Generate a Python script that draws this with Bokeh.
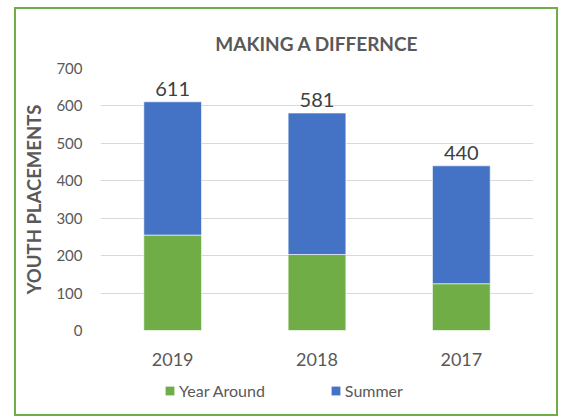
from bokeh.plotting import figure
from bokeh.models import ColumnDataSource, LabelSet, Legend, LegendItem, FactorRange, Range1d, FixedTicker, Spacer
from bokeh.core.properties import value
from bokeh.layouts import column, row
from bokeh.embed import file_html
from bokeh.resources import INLINE

years = ["2019", "2018", "2017"]
year_around = [255, 203, 125]
summer = [356, 378, 315]
series = ["Year Around", "Summer"]
colors = ["#70AD47", "#4472C4"]
y_ticks = [0, 100, 200, 300, 400, 500, 600, 700]

totals = [a + b for a, b in zip(year_around, summer)]
source = ColumnDataSource(dict(
    years=years, year_around=year_around, summer=summer,
    totals=totals, total_labels=[str(t) for t in totals]))

FONT = "Lato"
GREY = "#595959"

p = figure(x_range=FactorRange(*years), y_range=Range1d(0, 700),
           width=540, height=365, output_backend="svg", toolbar_location=None,
           min_border_left=84, min_border_right=23, min_border_top=59, min_border_bottom=44,
           title="MAKING A DIFFERNCE")
p.outline_line_color = None

p.title.text_font = FONT
p.title.text_font_size = "19px"
p.title.text_font_style = "bold"
p.title.text_color = GREY
p.title.align = "center"
p.title.standoff = 28

rs = p.vbar_stack(["year_around", "summer"], x="years", width=0.4, color=colors,
                  line_color="#ffffff", line_alpha=0.6, line_width=1, source=source)

labels = LabelSet(x="years", y="totals", text="total_labels", source=source,
                  text_align="center", text_baseline="alphabetic", y_offset=6,
                  text_font_size="20px", text_color="#404040", text_font=value(FONT))
p.add_layout(labels)

p.yaxis.ticker = FixedTicker(ticks=y_ticks)
p.yaxis.axis_line_color = None
p.yaxis.major_tick_line_color = None
p.yaxis.minor_tick_line_color = None
p.yaxis.major_label_standoff = 12
p.yaxis.major_label_text_font = FONT
p.yaxis.major_label_text_font_size = "15px"
p.yaxis.major_label_text_color = GREY
p.yaxis.axis_label = "YOUTH PLACEMENTS"
p.yaxis.axis_label_text_font = FONT
p.yaxis.axis_label_text_font_size = "18.5px"
p.yaxis.axis_label_text_font_style = "bold"
p.yaxis.axis_label_text_color = GREY
p.yaxis.axis_label_standoff = 8

p.xaxis.axis_line_color = None
p.xaxis.major_tick_line_color = None
p.xaxis.minor_tick_line_color = None
p.xaxis.major_label_standoff = 16
p.xaxis.major_label_text_font = FONT
p.xaxis.major_label_text_font_size = "18px"
p.xaxis.major_label_text_color = GREY

p.xgrid.grid_line_color = None
p.ygrid.grid_line_color = "#D9D9D9"
p.ygrid.grid_line_width = 1

# legend strip below the chart: zero-height bars per series supply the swatches
legend_src = ColumnDataSource(dict(series=series, colors=colors))
lf = figure(width=540, height=40, output_backend="svg", toolbar_location=None,
            x_range=FactorRange(*series), y_range=Range1d(0, 1),
            x_axis_type=None, y_axis_type=None, min_border=0)
lf.outline_line_color = None
lf.grid.visible = False
sw = lf.vbar(x="series", top=0, width=0.1, fill_color="colors", line_color=None, source=legend_src)
legend = Legend(items=[LegendItem(label=s, renderers=[sw], index=i) for i, s in enumerate(series)],
                orientation="horizontal", location=(64, 14),
                border_line_color=None, background_fill_alpha=0,
                glyph_width=11, glyph_height=11, spacing=65,
                label_text_font=FONT, label_text_font_size="16px",
                label_text_color=GREY, label_standoff=4, label_height=16,
                padding=0, margin=0)
lf.add_layout(legend, "center")

box = column(p, lf, styles={"border": "2px solid #70AD47"})
layout = column(Spacer(width=10, height=7), row(Spacer(width=14, height=10), box))

open("out.html", "w").write(file_html(layout, INLINE))
